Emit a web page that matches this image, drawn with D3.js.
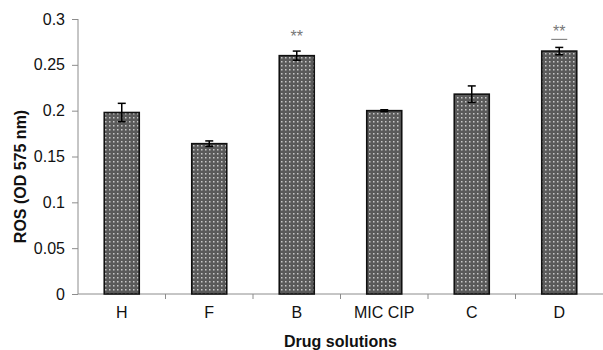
<!DOCTYPE html>
<html>
<head>
<meta charset="utf-8">
<script src="https://cdn.jsdelivr.net/npm/d3@7"></script>
<style>
  body { margin: 0; background: #fff; }
  svg { display: block; font-family: "Liberation Sans", Arial, sans-serif; }
</style>
</head>
<body>
<svg width="603" height="350"></svg>
<script>
// data
const categories = ['H', 'F', 'B', 'MIC CIP', 'C', 'D'];
const rosValues = [0.198, 0.164, 0.260, 0.200, 0.218, 0.265];
const rosErrors = [0.010, 0.003, 0.005, 0.001, 0.009, 0.004];
const significance = ['', '', '**', '', '', '**'];
const yTicks = [0, 0.05, 0.1, 0.15, 0.2, 0.25, 0.3];

const width = 603;
const height = 350;
const margin = { top: 19, right: 0, bottom: 56, left: 78 };
const axisColor = '#8c8c8c';

const svg = d3.select('svg');

// dotted fill like the original
const defs = svg.append('defs');
const pat = defs.append('pattern')
  .attr('id', 'dots')
  .attr('patternUnits', 'userSpaceOnUse')
  .attr('width', 4)
  .attr('height', 4);
pat.append('rect').attr('width', 4).attr('height', 4).attr('fill', '#5a5a5a');
pat.append('rect').attr('x', 1).attr('y', 1).attr('width', 1.5).attr('height', 1.5).attr('fill', '#c8c8c8');

const x = d3.scaleBand()
  .domain(categories)
  .range([margin.left, width - margin.right])
  .paddingInner(0.6)
  .paddingOuter(0.3);

const y = d3.scaleLinear()
  .domain([0, 0.3])
  .range([height - margin.bottom, margin.top]);

// y axis
const yAxis = svg.append('g')
  .attr('transform', `translate(${margin.left},0)`)
  .call(d3.axisLeft(y).tickValues(yTicks).tickSize(6).tickPadding(7)
    .tickFormat(d => d === 0 ? '0' : String(+d.toFixed(2))));
yAxis.select('.domain').attr('stroke', axisColor).attr('d', `M0,${y(0)}V${y(0.3)}`);
yAxis.selectAll('.tick line').attr('stroke', axisColor);
yAxis.selectAll('.tick text').attr('font-size', 16).attr('fill', '#111')
  .attr('font-family', '"Liberation Sans", Arial, sans-serif');

// x axis with ticks at category boundaries
const step = x.step();
const boundaries = d3.range(categories.length + 1).map(i => margin.left + i * step);
const xg = svg.append('g');
xg.append('line')
  .attr('x1', margin.left).attr('x2', width)
  .attr('y1', y(0)).attr('y2', y(0))
  .attr('stroke', axisColor);
xg.selectAll('line.tk')
  .data(boundaries.slice(1, -1))
  .enter().append('line')
  .attr('class', 'tk')
  .attr('x1', d => d).attr('x2', d => d)
  .attr('y1', y(0)).attr('y2', y(0) + 5)
  .attr('stroke', axisColor);
xg.selectAll('text')
  .data(categories)
  .enter().append('text')
  .attr('x', d => x(d) + x.bandwidth() / 2)
  .attr('y', y(0) + 24)
  .attr('text-anchor', 'middle')
  .attr('font-size', 16)
  .attr('fill', '#111')
  .text(d => d);

// bars
svg.append('g')
  .selectAll('rect')
  .data(categories)
  .enter().append('rect')
  .attr('x', d => x(d))
  .attr('y', (d, i) => y(rosValues[i]))
  .attr('width', x.bandwidth())
  .attr('height', (d, i) => y(0) - y(rosValues[i]))
  .attr('fill', 'url(#dots)')
  .attr('stroke', '#111')
  .attr('stroke-width', 1.6);

// error bars
const eg = svg.append('g').attr('stroke', '#000').attr('stroke-width', 1.5);
categories.forEach((c, i) => {
  const cx = x(c) + x.bandwidth() / 2;
  const hi = y(rosValues[i] + rosErrors[i]);
  const lo = y(rosValues[i] - rosErrors[i]);
  eg.append('line').attr('x1', cx).attr('x2', cx).attr('y1', hi).attr('y2', lo);
  eg.append('line').attr('x1', cx - 4).attr('x2', cx + 4).attr('y1', hi).attr('y2', hi);
  eg.append('line').attr('x1', cx - 4).attr('x2', cx + 4).attr('y1', lo).attr('y2', lo);
});

// significance marks
categories.forEach((c, i) => {
  if (!significance[i]) return;
  const cx = x(c) + x.bandwidth() / 2;
  const top = y(rosValues[i] + rosErrors[i]);
  svg.append('text')
    .attr('x', cx)
    .attr('y', i === 5 ? top - 10 : top - 9.5)
    .attr('text-anchor', 'middle')
    .attr('font-size', 16)
    .attr('fill', '#777')
    .text(significance[i]);
  if (i === 5) {
    svg.append('line')
      .attr('x1', cx - 8).attr('x2', cx + 8)
      .attr('y1', top - 8).attr('y2', top - 8)
      .attr('stroke', '#888').attr('stroke-width', 1.2);
  }
});

// axis titles
svg.append('text')
  .attr('x', (margin.left + width) / 2)
  .attr('y', 347)
  .attr('text-anchor', 'middle')
  .attr('font-size', 16)
  .attr('font-weight', 'bold')
  .attr('fill', '#111')
  .text('Drug solutions');

svg.append('text')
  .attr('transform', `translate(26,${(y(0) + y(0.3)) / 2 + 20}) rotate(-90)`)
  .attr('text-anchor', 'middle')
  .attr('font-size', 16)
  .attr('font-weight', 'bold')
  .attr('fill', '#111')
  .text('ROS (OD 575 nm)');
</script>
</body>
</html>
